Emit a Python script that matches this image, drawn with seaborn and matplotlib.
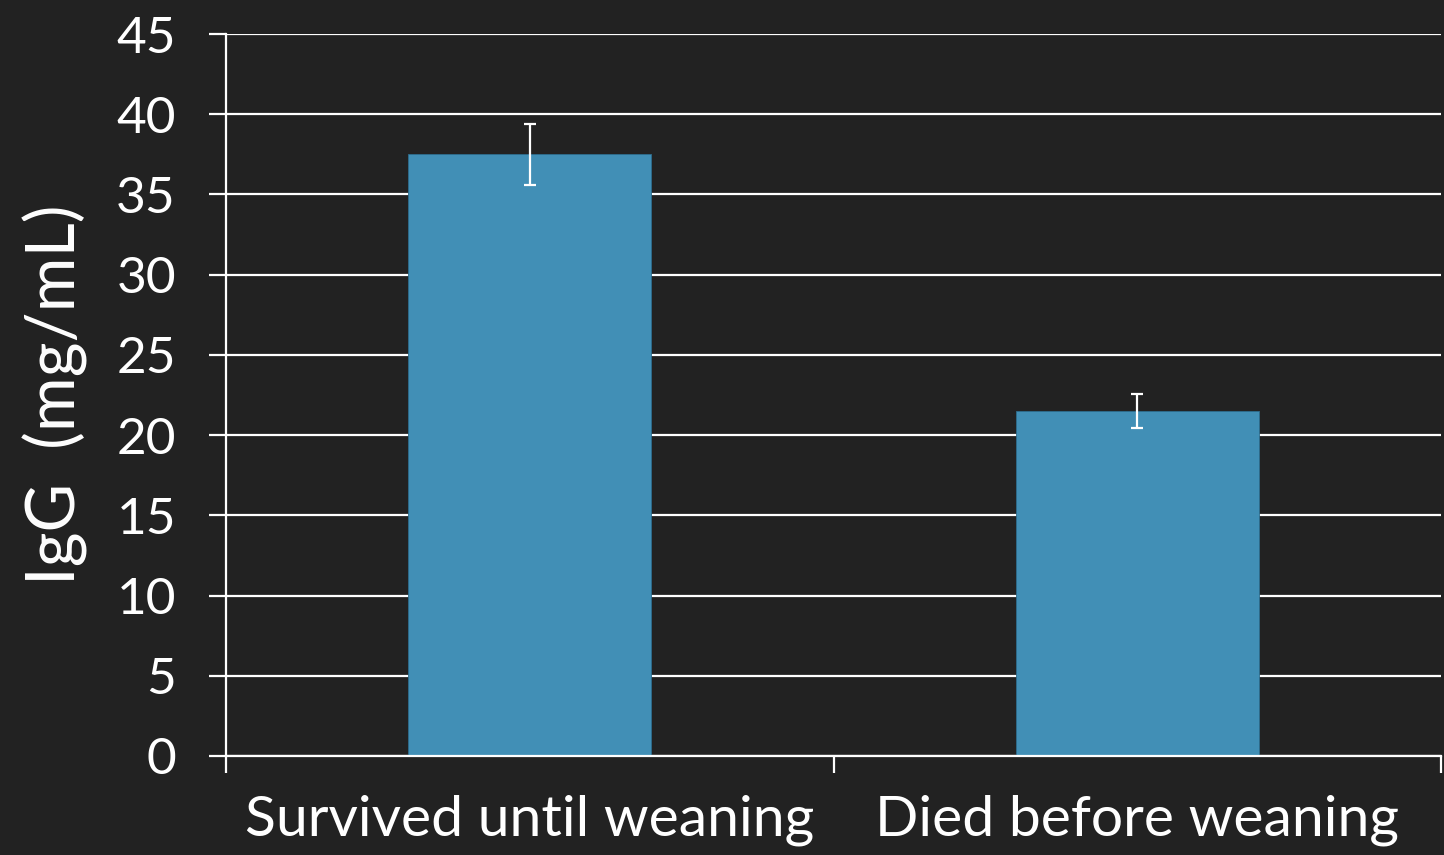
import pandas as pd
import seaborn as sns
import matplotlib.pyplot as plt
from matplotlib.ticker import FixedLocator

groups = ["Survived until weaning", "Died before weaning"]
igg_mean = [37.5, 21.5]
igg_err = [1.9, 1.05]

bg = "#222222"
bar_color = "#418FB6"

df = pd.DataFrame({"group": groups, "igg": igg_mean})

sns.set_style("dark")
plt.rcParams["font.family"] = ["Lato", "DejaVu Sans"]

fig = plt.figure(figsize=(14.44, 8.55), dpi=100, facecolor=bg)
ax = fig.add_axes([0.1565, 0.1158, 0.8415, 0.8444])
ax.set_facecolor(bg)

ax.yaxis.grid(True, color="white", linewidth=1.6)
ax.set_axisbelow(True)

sns.barplot(data=df, x="group", y="igg", color=bar_color, width=0.4,
            errorbar=None, saturation=1, edgecolor="#2d6d8e", linewidth=0.6, ax=ax)
ax.errorbar(range(len(groups)), igg_mean, yerr=igg_err, fmt="none",
            ecolor="white", elinewidth=1.6, capsize=4.5, capthick=1.6)

ax.set_ylim(0, 45)
ax.set_yticks(range(0, 46, 5))
ax.set_xlim(-0.5, len(groups) - 0.5)

# category boundary ticks, labels centred under bars
ax.xaxis.set_major_locator(FixedLocator([-0.5, 0.5, 1.5]))
ax.xaxis.set_minor_locator(FixedLocator([0, 1]))
ax.set_xticklabels([], minor=False)
ax.set_xticklabels(groups, minor=True)
ax.tick_params(axis="x", which="major", bottom=True, length=12, width=1.6,
               color="white", direction="out")
ax.tick_params(axis="x", which="minor", bottom=True, length=0, pad=28,
               labelsize=41, labelcolor="white")
ax.tick_params(axis="y", left=True, length=12, width=1.6, color="white",
               direction="out", pad=24, labelsize=37, labelcolor="white")

ax.set_xlabel("")
ax.set_ylabel("IgG  (mg/mL)", fontsize=48, fontweight="normal", color="white", labelpad=20)

for side in ["top", "right"]:
    ax.spines[side].set_visible(False)
ax.spines["left"].set_color("white")
ax.spines["left"].set_linewidth(1.6)
ax.spines["bottom"].set_color("white")
ax.spines["bottom"].set_linewidth(1.6)

fig.savefig("out.png", dpi=100, facecolor=bg)
